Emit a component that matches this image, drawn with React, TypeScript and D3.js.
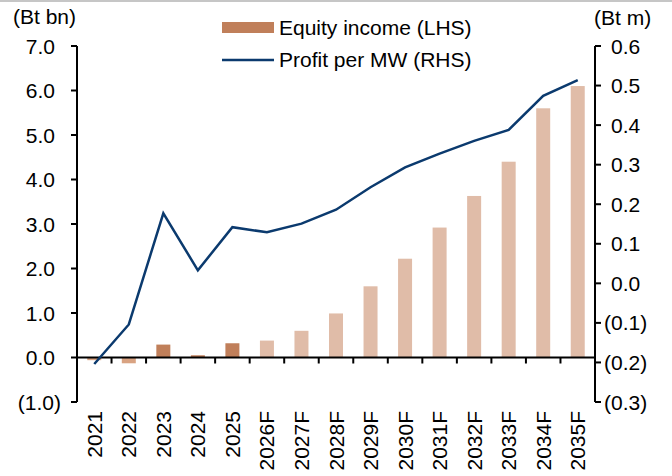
import * as d3 from "d3";
import { useRef, useEffect } from "react";

const years = ["2021", "2022", "2023", "2024", "2025", "2026F", "2027F", "2028F", "2029F", "2030F", "2031F", "2032F", "2033F", "2034F", "2035F"];
const forecast = [false, false, false, false, false, true, true, true, true, true, true, true, true, true, true];
const equityIncome = [-0.06, -0.13, 0.29, 0.05, 0.32, 0.38, 0.6, 0.99, 1.6, 2.22, 2.92, 3.63, 4.4, 5.6, 6.1];
const profitPerMW = [-0.204, -0.104, 0.177, 0.033, 0.142, 0.129, 0.151, 0.186, 0.243, 0.293, 0.328, 0.36, 0.388, 0.474, 0.514];
const leftTicks = [-1, 0, 1, 2, 3, 4, 5, 6, 7];
const rightTicks = [-0.3, -0.2, -0.1, 0, 0.1, 0.2, 0.3, 0.4, 0.5, 0.6];

const fmt = (v: number, d: number) => (v < 0 ? `(${Math.abs(v).toFixed(d)})` : v.toFixed(d));

export default function App() {
  const svgRef = useRef<SVGSVGElement>(null);
  const width = 672;
  const height = 476;

  useEffect(() => {
    const svg = d3.select(svgRef.current);
    svg.selectAll("*").remove();

    const left = 77;
    const right = 595;
    const top = 46;
    const bottom = 402;
    const font = "Liberation Sans, Arial, sans-serif";
    const fs = "21px";

    const xc = d3.scaleBand().domain(years).range([left, right]);
    const yL = d3.scaleLinear().domain([-1, 7]).range([bottom, top]);
    const yR = d3.scaleLinear().domain([-0.3, 0.6]).range([bottom, top]);

    // top border
    svg.append("rect").attr("x", 0).attr("y", 0).attr("width", width).attr("height", 2).attr("fill", "#c6c6c6");

    // bars
    svg.append("g")
      .selectAll("rect")
      .data(years)
      .join("rect")
      .attr("x", (d) => xc(d)! + xc.bandwidth() / 2 - 7)
      .attr("width", 14)
      .attr("y", (d, i) => yL(Math.max(0, equityIncome[i])))
      .attr("height", (d, i) => Math.abs(yL(equityIncome[i]) - yL(0)))
      .attr("fill", (d, i) => (forecast[i] ? "#e0bca8" : equityIncome[i] < 0 ? "#d9a382" : "#c07f5a"));

    // x axis line at zero
    svg.append("line")
      .attr("x1", left).attr("x2", right)
      .attr("y1", yL(0)).attr("y2", yL(0))
      .attr("stroke", "#000").attr("stroke-width", 2);

    // x ticks between categories
    years.slice(1).forEach((d) => {
      svg.append("line")
        .attr("x1", xc(d)!).attr("x2", xc(d)!)
        .attr("y1", yL(0)).attr("y2", yL(0) + 6)
        .attr("stroke", "#000").attr("stroke-width", 2);
    });

    // x labels
    years.forEach((d) => {
      const cx = xc(d)! + xc.bandwidth() / 2;
      svg.append("text")
        .attr("transform", `translate(${cx + 7.5},411) rotate(-90)`)
        .attr("text-anchor", "end")
        .style("font-family", font)
        .style("font-size", fs)
        .text(d);
    });

    // left axis
    svg.append("line")
      .attr("x1", left).attr("x2", left).attr("y1", top).attr("y2", bottom)
      .attr("stroke", "#000").attr("stroke-width", 2);
    leftTicks.forEach((t) => {
      svg.append("line")
        .attr("x1", left - 6).attr("x2", left).attr("y1", yL(t)).attr("y2", yL(t))
        .attr("stroke", "#000").attr("stroke-width", 2);
      svg.append("text")
        .attr("x", t < 0 ? 61 : 55).attr("y", yL(t) + 7.5)
        .attr("text-anchor", "end")
        .style("font-family", font).style("font-size", fs)
        .text(fmt(t, 1));
    });

    // right axis
    svg.append("line")
      .attr("x1", right).attr("x2", right).attr("y1", top).attr("y2", bottom)
      .attr("stroke", "#000").attr("stroke-width", 2);
    rightTicks.forEach((t) => {
      svg.append("line")
        .attr("x1", right).attr("x2", right + 6).attr("y1", yR(t)).attr("y2", yR(t))
        .attr("stroke", "#000").attr("stroke-width", 2);
      svg.append("text")
        .attr("x", t < 0 ? 604 : 611).attr("y", yR(t) + 7.5)
        .style("font-family", font).style("font-size", fs)
        .text(fmt(t, 1));
    });

    // units
    svg.append("text").attr("x", 13).attr("y", 24)
      .style("font-family", font).style("font-size", fs).text("(Bt bn)");
    svg.append("text").attr("x", 594).attr("y", 25)
      .style("font-family", font).style("font-size", fs).text("(Bt m)");

    // profit line
    const line = d3.line<number>()
      .x((d, i) => xc(years[i])! + xc.bandwidth() / 2)
      .y((d) => yR(d));
    svg.append("path")
      .attr("d", line(profitPerMW))
      .attr("fill", "none")
      .attr("stroke", "#0b3a6e")
      .attr("stroke-width", 2.5);

    // legend
    svg.append("rect").attr("x", 222).attr("y", 22).attr("width", 52).attr("height", 11).attr("fill", "#c07f5a");
    svg.append("text").attr("x", 279).attr("y", 35)
      .style("font-family", font).style("font-size", fs).text("Equity income (LHS)");
    svg.append("line").attr("x1", 222).attr("x2", 274).attr("y1", 60).attr("y2", 60)
      .attr("stroke", "#0b3a6e").attr("stroke-width", 2.5);
    svg.append("text").attr("x", 279).attr("y", 67)
      .style("font-family", font).style("font-size", fs).text("Profit per MW (RHS)");
  }, []);

  return (
    <div style={{ position: "absolute", left: 0, top: 0 }}>
      <svg ref={svgRef} width={width} height={height} style={{ display: "block", background: "#fff" }} />
    </div>
  );
}
